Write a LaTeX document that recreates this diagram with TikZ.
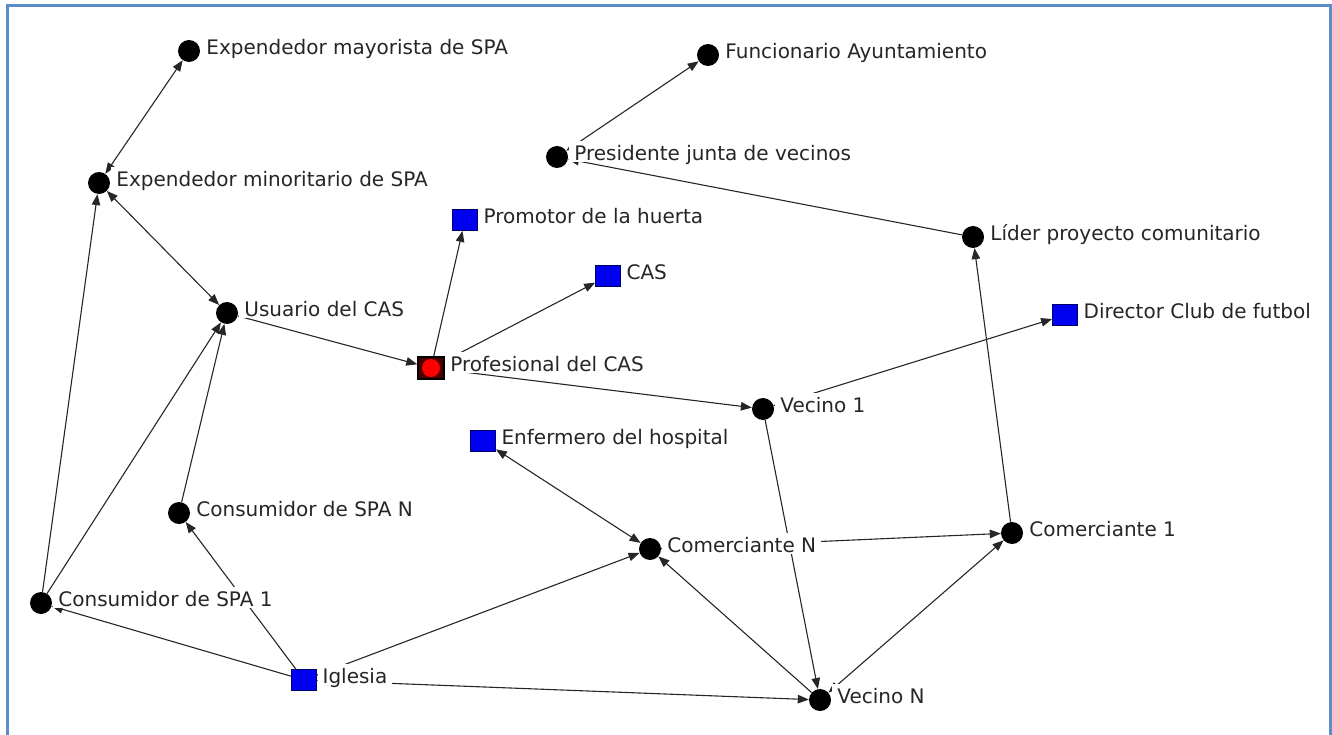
\documentclass[tikz,border=0pt]{standalone}
\usepackage{fontspec}
\setmainfont{DejaVu Sans}
\usepackage{xcolor}
\usetikzlibrary{arrows.meta,positioning}
\definecolor{frameblue}{HTML}{5B8CCB}
\definecolor{orgblue}{HTML}{0000F0}
\pgfdeclarelayer{ties}
\pgfsetlayers{ties,main}

\begin{document}
\begin{tikzpicture}[x=1pt, y=-1pt,
    >={Triangle[length=11pt,width=8.5pt]},
    actor/.style={circle, fill=black, minimum size=22pt, inner sep=0pt},
    org/.style={rectangle, draw=black!60!blue, fill=orgblue, line width=0.8pt, minimum width=25pt, minimum height=21pt, inner sep=0pt},
    focal/.style={rectangle, draw=black, fill=black!70!red, line width=1.5pt, minimum width=26pt, minimum height=22pt, inner sep=0pt,
        path picture={\fill[red] (path picture bounding box.center) circle (9pt);}},
    lbl/.style={fill=white, inner xsep=5pt, inner ysep=0pt, text height=20pt, text depth=1pt, font=\fontsize{20}{24}\selectfont, text=black!85, yshift=5.7pt},
    tie/.style={->, line width=1.1pt, black!85},
    mutual/.style={<->, line width=1.1pt, black!85}
]
\useasboundingbox (0,0) rectangle (1332,735);
\draw[frameblue, line width=3pt] (7.5,735) |- (1330,6) -- (1330,735);

\node[actor] (mayor) at (189,51) {};
\node[actor] (minor) at (99,183) {};
\node[actor] (funcio) at (708,55) {};
\node[actor] (presi) at (557,157) {};
\node[org] (promo) at (465,220) {};
\node[org] (cas) at (608,276) {};
\node[actor] (lider) at (973,237) {};
\node[org] (director) at (1065,315) {};
\node[actor] (usuario) at (227,313) {};
\node[focal] (prof) at (431,368) {};
\node[actor] (vecino1) at (763,409) {};
\node[org] (enfer) at (483,441) {};
\node[actor] (consN) at (179,513) {};
\node[actor] (comN) at (650,549) {};
\node[actor] (com1) at (1012,533) {};
\node[actor] (cons1) at (41,603) {};
\node[org] (iglesia) at (304,680) {};
\node[actor] (vecinoN) at (820,700) {};

\node[lbl, right=1pt of mayor] (mayorT) {Expendedor mayorista de SPA};
\node[lbl, right=1pt of minor] (minorT) {Expendedor minoritario de SPA};
\node[lbl, right=1pt of funcio] (funcioT) {Funcionario Ayuntamiento};
\node[lbl, right=1pt of presi] (presiT) {Presidente junta de vecinos};
\node[lbl, right=0.5pt of promo] (promoT) {Promotor de la huerta};
\node[lbl, right=0.5pt of cas] (casT) {CAS};
\node[lbl, right=1pt of lider] (liderT) {Líder proyecto comunitario};
\node[lbl, right=0.5pt of director] (directorT) {Director Club de futbol};
\node[lbl, right=1pt of usuario] (usuarioT) {Usuario del CAS};
\node[lbl, right=0.5pt of prof] (profT) {Profesional del CAS};
\node[lbl, right=1pt of vecino1] (vecino1T) {Vecino 1};
\node[lbl, right=0.5pt of enfer] (enferT) {Enfermero del hospital};
\node[lbl, right=1pt of consN] (consNT) {Consumidor de SPA N};
\node[lbl, right=1pt of comN] (comNT) {Comerciante N};
\node[lbl, right=1pt of com1] (com1T) {Comerciante 1};
\node[lbl, right=1pt of cons1] (cons1T) {Consumidor de SPA 1};
\node[lbl, right=0.5pt of iglesia] (iglesiaT) {Iglesia};
\node[lbl, right=1pt of vecinoN] (vecinoNT) {Vecino N};

\begin{pgfonlayer}{ties}
\draw[mutual] (mayor) -- (minor);
\draw[mutual] (minor) -- (usuario);
\draw[tie] (cons1) -- (minor);
\draw[tie] (cons1) -- (usuario);
\draw[tie] (consN) -- (usuario);
\draw[tie] (usuario) -- (prof);
\draw[tie] (prof) -- (promo);
\draw[tie] (prof) -- (cas);
\draw[tie] (prof) -- (vecino1);
\draw[tie] (vecino1) -- (director);
\draw[tie] (vecino1) -- (vecinoN);
\draw[mutual] (enfer) -- (comN);
\draw[tie] (iglesia) -- (comN);
\draw[tie] (vecinoN) -- (comN);
\draw[tie] (comN) -- (com1);
\draw[mutual] (vecinoN) -- (com1);
\draw[mutual] (iglesia) -- (vecinoN);
\draw[tie] (iglesia) -- (cons1);
\draw[tie] (iglesia) -- (consN);
\draw[tie] (com1) -- (lider);
\draw[tie] (lider) -- (presi);
\draw[mutual] (presi) -- (funcio);
\end{pgfonlayer}
\end{tikzpicture}
\end{document}
